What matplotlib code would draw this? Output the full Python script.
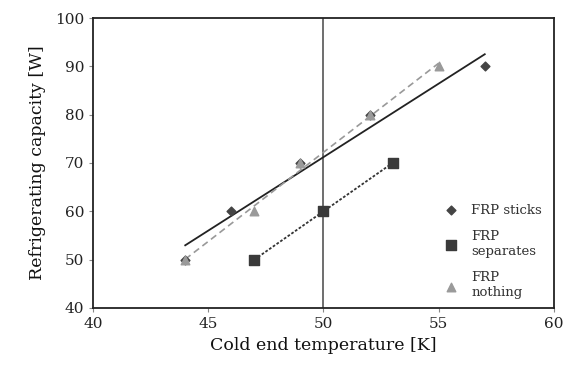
import numpy as np
import matplotlib.pyplot as plt

# data
sticks_x = [44, 46, 49, 52, 57]
sticks_y = [50, 60, 70, 80, 90]
sep_x = [47, 50, 53]
sep_y = [50, 60, 70]
none_x = [44, 47, 49, 52, 55]
none_y = [50, 60, 70, 80, 90]
xticks = [40, 45, 50, 55, 60]
yticks = [40, 50, 60, 70, 80, 90, 100]

plt.rcParams['font.family'] = ['DejaVu Serif']

fig = plt.figure(figsize=(5.71, 3.76), dpi=100)
ax = fig.add_axes([0.163, 0.181, 0.807, 0.771])

# linear trend lines
p = np.polyfit(sticks_x, sticks_y, 1)
tx = np.array([min(sticks_x), max(sticks_x)])
ax.plot(tx, np.polyval(p, tx), color='#222222', lw=1.3, zorder=2)

p2 = np.polyfit(none_x, none_y, 1)
tx2 = np.array([min(none_x), max(none_x)])
ax.plot(tx2, np.polyval(p2, tx2), color='#999999', lw=1.2, ls=(0, (4, 2.5)), zorder=2)

ax.plot(sep_x, sep_y, color='#333333', lw=1.3, ls=(0, (1.5, 1)), zorder=2)

ax.axvline(50, color='#555555', lw=1.2, zorder=1)

ax.scatter(sticks_x, sticks_y, marker='D', s=20, color='#444444', label='FRP sticks', zorder=3)
ax.scatter(sep_x, sep_y, marker='s', s=42, color='#3a3a3a', label='FRP\nseparates', zorder=3)
ax.scatter(none_x, none_y, marker='^', s=38, color='#9a9a9a', label='FRP\nnothing', zorder=3)

ax.set_xlim(40, 60)
ax.set_ylim(40, 100)
ax.set_xticks(xticks)
ax.set_yticks(yticks)
ax.tick_params(labelsize=11, length=3, color='#888888', colors='#222222')
for s in ax.spines.values():
    s.set_linewidth(1.3)
    s.set_color('#222222')

ax.set_xlabel('Cold end temperature [K]', fontsize=12.5, color='#111111', labelpad=4)
ax.set_ylabel('Refrigerating capacity [W]', fontsize=12.5, color='#111111', labelpad=6)

leg = ax.legend(loc='lower right', bbox_to_anchor=(1.0, -0.01), frameon=False,
                fontsize=9.5, handletextpad=0.5, labelspacing=1.0, borderaxespad=0.5)
for t in leg.get_texts():
    t.set_color('#333333')

fig.savefig('out.png', dpi=100)
